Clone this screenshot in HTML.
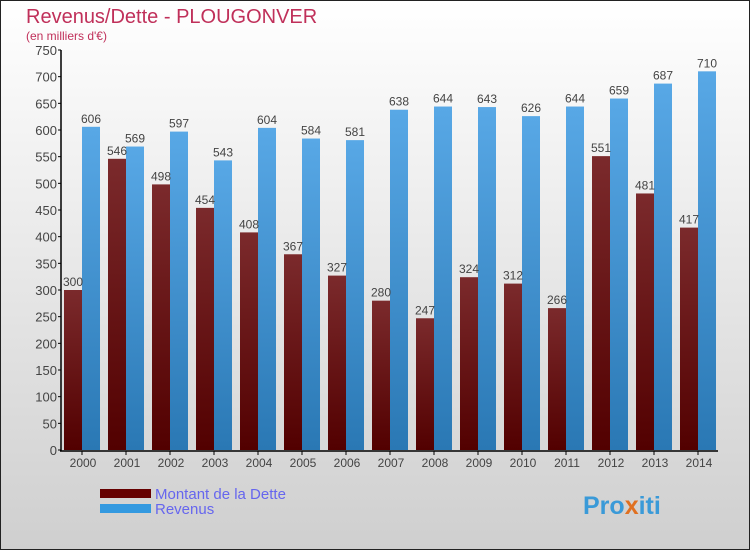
<!DOCTYPE html>
<html><head><meta charset="utf-8"><style>
body{margin:0}
#c{width:750px;height:550px;position:relative;box-sizing:border-box;border:1px solid #222;background:linear-gradient(#ffffff,#cfcfcf);font-family:"Liberation Sans",sans-serif;overflow:hidden}
</style></head><body>
<div id="c">
<svg id="s" width="750" height="550" style="position:absolute;left:-1px;top:-1px">
<defs>
<linearGradient id="gd" x1="0" y1="0" x2="0" y2="1"><stop offset="0" stop-color="#7b2a2c"/><stop offset="1" stop-color="#520000"/></linearGradient>
<linearGradient id="gr" x1="0" y1="0" x2="0" y2="1"><stop offset="0" stop-color="#58a8e6"/><stop offset="1" stop-color="#2a78b4"/></linearGradient>
</defs>
<text x="26" y="23" font-size="20" fill="#c0305a">Revenus/Dette - PLOUGONVER</text>
<text x="26" y="40" font-size="12" fill="#c0305a">(en milliers d'€)</text>
<g id="plot"></g>
<rect x="100" y="489" width="51" height="9" fill="#660000"/>
<rect x="100" y="504" width="51" height="9" fill="#3399e0"/>
<text x="155" y="499" font-size="15" fill="#6666ee">Montant de la Dette</text>
<text x="155" y="514" font-size="15" fill="#6666ee">Revenus</text>
<text x="583" y="514" font-size="25" font-weight="bold" fill="#3a9ad8">Pro<tspan fill="#e07020">x</tspan>iti</text>
</svg>
</div>
<script>
const years=["2000","2001","2002","2003","2004","2005","2006","2007","2008","2009","2010","2011","2012","2013","2014"];
const dette=[300,546,498,454,408,367,327,280,247,324,312,266,551,481,417];
const revenus=[606,569,597,543,604,584,581,638,644,643,626,644,659,687,710];
const ticks=[0,50,100,150,200,250,300,350,400,450,500,550,600,650,700,750];
const NS="http://www.w3.org/2000/svg";
const g=document.getElementById('plot');
const y=v=>450-v*400/750;
const x=i=>64+44*i;
function mk(t,a){const e=document.createElementNS(NS,t);for(const k in a)e.setAttribute(k,a[k]);g.appendChild(e);return e;}
let ax=mk('line',{x1:61,y1:50,x2:61,y2:451,stroke:'#000','stroke-width':1.5});


let bx=mk('line',{x1:60,y1:451,x2:718,y2:451,stroke:'#000','stroke-width':1.5});


ticks.forEach(t=>{
 let l=mk('line',{x1:58,x2:61,y1:y(t),y2:y(t),stroke:'#000'});
 
 
 let tx=mk('text',{x:57,y:y(t)+5,'font-size':13,'text-anchor':'end',fill:'#444'});
 tx.textContent=t;
 
 
});
years.forEach((yr,i)=>{
 let b1=mk('rect',{x:x(i),y:y(dette[i]),width:18,height:450-y(dette[i]),fill:'url(#gd)'});
 
 
 let b2=mk('rect',{x:x(i)+18,y:y(revenus[i]),width:18,height:450-y(revenus[i]),fill:'url(#gr)'});
 
 
 let t1=mk('text',{x:x(i)+9,y:y(dette[i])-4,'font-size':12,'text-anchor':'middle',fill:'#444'});
 t1.textContent=dette[i];
 
 
 let t2=mk('text',{x:x(i)+27,y:y(revenus[i])-4,'font-size':12,'text-anchor':'middle',fill:'#444'});
 t2.textContent=revenus[i];
 
 
 let tk=mk('line',{x1:x(i)+18,x2:x(i)+18,y1:451,y2:455,stroke:'#000'});
 
 
 let xl=mk('text',{x:x(i)+19,y:467,'font-size':12,'text-anchor':'middle',fill:'#444'});
 xl.textContent=yr;
 
 
});
</script>
</body></html>
